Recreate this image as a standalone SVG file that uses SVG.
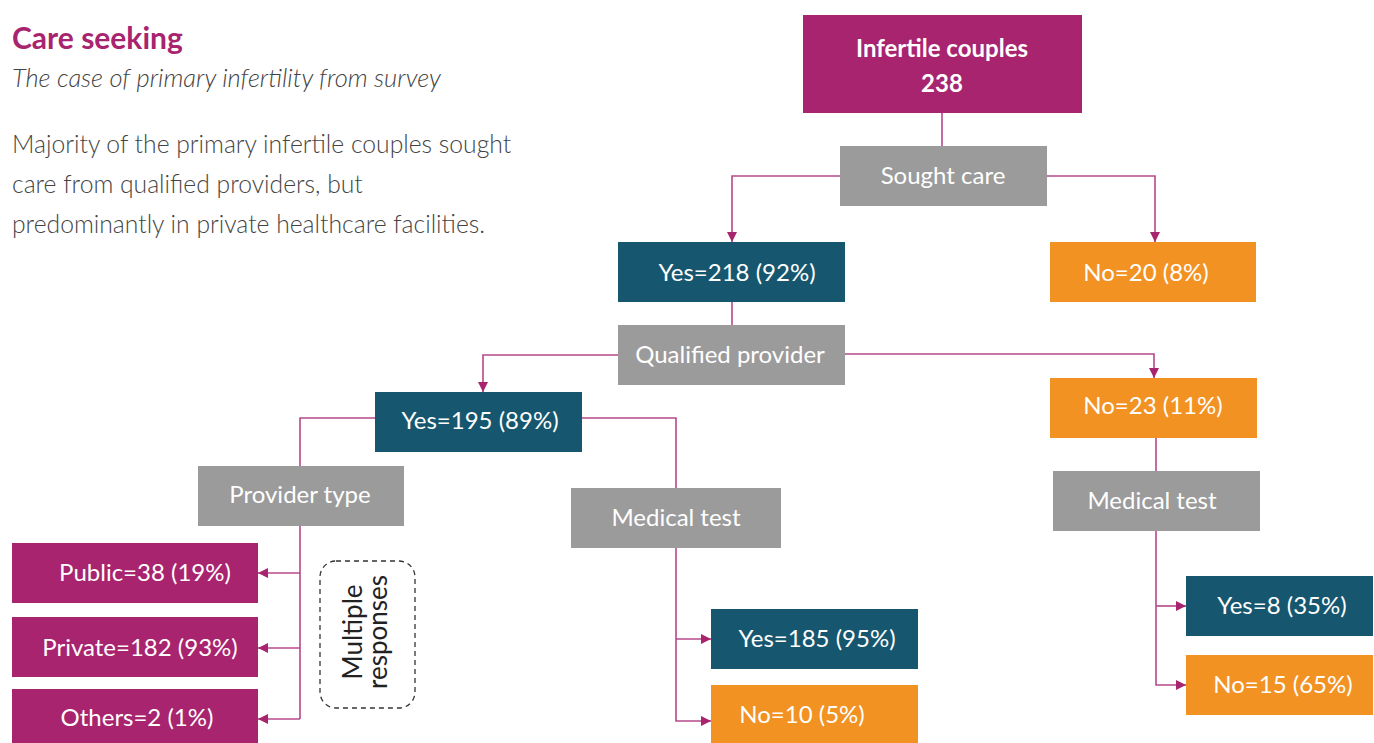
<svg xmlns="http://www.w3.org/2000/svg" width="1374" height="743" viewBox="0 0 1374 743">
<defs>
<style>
.mag{fill:#A8246F}
.teal{fill:#16576F}
.org{fill:#F29222}
.gray{fill:#9B9B9B}
.lbl{font-family:Lato,"Noto Sans",sans-serif;font-size:24px;fill:#fff;text-anchor:middle}
.conn{fill:none;stroke:#B7488B;stroke-width:1.6}
</style>
<marker id="ah" viewBox="0 0 10 10" refX="10" refY="5" markerWidth="10" markerHeight="10" markerUnits="userSpaceOnUse" orient="auto">
<path d="M0,0 L10,5 L0,10 z" fill="#A8246F"/>
</marker>
</defs>
<rect width="1374" height="743" fill="#fff"/>
<g id="header" font-family="Lato,'Noto Sans',sans-serif">
<text x="12" y="49" font-size="30" font-weight="bold" fill="#A8246F">Care seeking</text>
<text x="12" y="87" font-size="25.5" font-style="italic" font-weight="300" fill="#444">The case of primary infertility from survey</text>
<text font-size="24.7" font-weight="300" fill="#444"><tspan x="12" y="153">Majority of the primary infertile couples sought</tspan><tspan x="12" y="193">care from qualified providers, but</tspan><tspan x="12" y="233">predominantly in private healthcare facilities.</tspan></text>
</g>
<g id="connectors">
<path class="conn" d="M942,113 V146"/>
<path class="conn" d="M840,176 H732 V242" marker-end="url(#ah)"/>
<path class="conn" d="M1047,176 H1155 V242" marker-end="url(#ah)"/>
<path class="conn" d="M732,302 V325"/>
<path class="conn" d="M618,355 H483 V392" marker-end="url(#ah)"/>
<path class="conn" d="M845,354 H1154 V378" marker-end="url(#ah)"/>
<path class="conn" d="M375,418 H300 V466"/>
<path class="conn" d="M300,526 V719"/>
<path class="conn" d="M300,573 H258" marker-end="url(#ah)"/>
<path class="conn" d="M300,648 H258" marker-end="url(#ah)"/>
<path class="conn" d="M300,719 H258" marker-end="url(#ah)"/>
<path class="conn" d="M582,418 H676 V488"/>
<path class="conn" d="M676,548 V721 H711" marker-end="url(#ah)"/>
<path class="conn" d="M676,639 H711" marker-end="url(#ah)"/>
<path class="conn" d="M1156,438 V471"/>
<path class="conn" d="M1156,531 V685 H1186" marker-end="url(#ah)"/>
<path class="conn" d="M1156,606 H1186" marker-end="url(#ah)"/>
</g>
<g id="infertile">
<rect class="mag" x="803" y="15" width="279" height="98"/>
<text class="lbl" x="942" y="57" font-weight="bold">Infertile couples</text>
<text class="lbl" x="942" y="92" font-weight="bold">238</text>
</g>
<g id="sought">
<rect class="gray" x="840" y="146" width="207" height="60"/>
<text class="lbl" x="943" y="184">Sought care</text>
</g>
<g id="yes218">
<rect class="teal" x="618" y="242" width="227" height="60"/>
<text class="lbl" x="737" y="281">Yes=218 (92%)</text>
</g>
<g id="no20">
<rect class="org" x="1050" y="242" width="206" height="60"/>
<text class="lbl" x="1146" y="281">No=20 (8%)</text>
</g>
<g id="qualified">
<rect class="gray" x="618" y="325" width="227" height="60"/>
<text class="lbl" x="730" y="363">Qualified provider</text>
</g>
<g id="yes195">
<rect class="teal" x="375" y="392" width="207" height="60"/>
<text class="lbl" x="480" y="429">Yes=195 (89%)</text>
</g>
<g id="no23">
<rect class="org" x="1050" y="378" width="207" height="60"/>
<text class="lbl" x="1153" y="414">No=23 (11%)</text>
</g>
<g id="providertype">
<rect class="gray" x="198" y="466" width="206" height="60"/>
<text class="lbl" x="300" y="503">Provider type</text>
</g>
<g id="medtest1">
<rect class="gray" x="571" y="488" width="210" height="60"/>
<text class="lbl" x="676" y="526">Medical test</text>
</g>
<g id="medtest2">
<rect class="gray" x="1053" y="471" width="207" height="60"/>
<text class="lbl" x="1152" y="509">Medical test</text>
</g>
<g id="public">
<rect class="mag" x="12" y="543" width="246" height="60"/>
<text class="lbl" x="145" y="581">Public=38 (19%)</text>
</g>
<g id="private">
<rect class="mag" x="12" y="617" width="246" height="60"/>
<text class="lbl" x="140" y="656">Private=182 (93%)</text>
</g>
<g id="others">
<rect class="mag" x="12" y="689" width="246" height="54"/>
<text class="lbl" x="137" y="726">Others=2 (1%)</text>
</g>
<g id="multiple">
<rect x="320" y="561" width="95" height="147" rx="16" ry="16" fill="none" stroke="#333" stroke-width="1.3" stroke-dasharray="5,4"/>
<text transform="translate(367,632) rotate(-90)" font-family="Lato,'Noto Sans',sans-serif" font-size="26" fill="#222" text-anchor="middle"><tspan x="0" y="-5">Multiple</tspan><tspan x="0" y="20">responses</tspan></text>
</g>
<g id="yes185">
<rect class="teal" x="711" y="609" width="207" height="60"/>
<text class="lbl" x="817" y="647">Yes=185 (95%)</text>
</g>
<g id="no10">
<rect class="org" x="711" y="685" width="207" height="58"/>
<text class="lbl" x="802" y="723">No=10 (5%)</text>
</g>
<g id="yes8">
<rect class="teal" x="1186" y="576" width="187" height="60"/>
<text class="lbl" x="1282" y="614">Yes=8 (35%)</text>
</g>
<g id="no15">
<rect class="org" x="1186" y="655" width="187" height="60"/>
<text class="lbl" x="1283" y="693">No=15 (65%)</text>
</g>
</svg>
